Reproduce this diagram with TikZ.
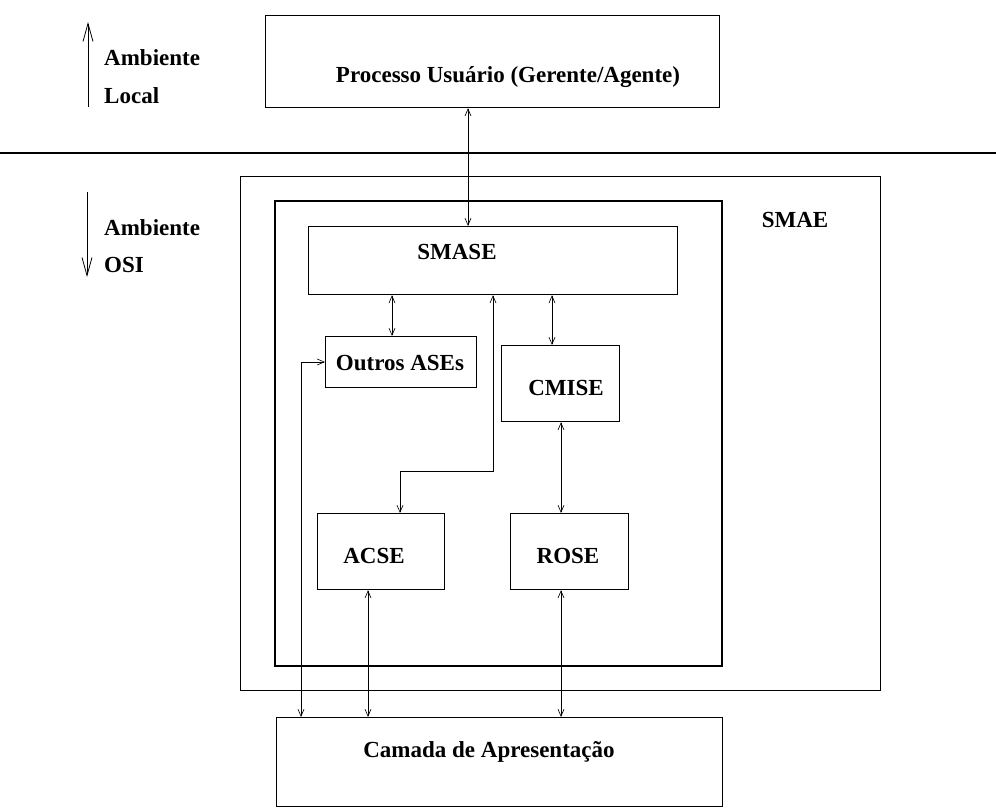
\documentclass[tikz,border=0pt]{standalone}
\usepackage{fontspec}
\setmainfont{Liberation Serif}
\usetikzlibrary{arrows.meta}
\begin{document}
\begin{tikzpicture}[x=1pt,y=-1pt,
  box/.style={draw, line width=1.2pt, inner sep=0pt, anchor=north west},
  thinbox/.style={draw, line width=0.8pt, inner sep=0pt, anchor=north west},
  lbl/.style={font=\bfseries\fontsize{23}{26}\selectfont, inner sep=0pt},
  arr/.style={line width=0.65pt, {Straight Barb[length=7pt,width=6pt]}-{Straight Barb[length=7pt,width=6pt]}},
  bigarr/.style={line width=0.8pt, -{Straight Barb[length=18pt,width=10pt]}}]
\useasboundingbox (0,0) rectangle (996,808);
% boxes
\node[box, minimum width=454pt, minimum height=92pt] (proc) at (265,15) {};
\node[thinbox, minimum width=640pt, minimum height=514pt] (smae) at (240,176) {};
\node[box, line width=1.7pt, minimum width=447pt, minimum height=465pt] (inner) at (274,200) {};
\node[box, minimum width=369pt, minimum height=68pt] (smase) at (308,226) {};
\node[thinbox, minimum width=151pt, minimum height=51pt] (outros) at (325,336) {};
\node[box, minimum width=118pt, minimum height=76pt] (cmise) at (501,345) {};
\node[box, minimum width=127pt, minimum height=76pt] (acse) at (317,513) {};
\node[box, minimum width=118pt, minimum height=76pt] (rose) at (510,513) {};
\node[box, minimum width=446pt, minimum height=89pt] (camada) at (276,717) {};
% texts
\node[lbl] (proct) at (508,77) {Processo Usuário (Gerente/Agente)};
\node[lbl] (smaet) at (795,220) {SMAE};
\node[lbl] (smaset) at (457,252) {SMASE};
\node[lbl] (outrost) at (400,363) {Outros ASEs};
\node[lbl] (cmiset) at (566,388) {CMISE};
\node[lbl] (acset) at (374,556) {ACSE};
\node[lbl] (roset) at (568,556) {ROSE};
\node[lbl] (camadat) at (489,752) {Camada de Apresentação};
\node[lbl, anchor=west] (amb1) at (104,58) {Ambiente};
\node[lbl, anchor=west] (local) at (104,96) {Local};
\node[lbl, anchor=west] (amb2) at (104,228) {Ambiente};
\node[lbl, anchor=west] (osi) at (104,265) {OSI};
% separator line
\coordinate (sepL) at (0,153);
\coordinate (sepR) at (996,153);
\draw[line width=1.2pt] (sepL) -- (sepR);
% environment arrows
\coordinate (upA) at (88,107);
\coordinate (upB) at (88,22);
\coordinate (dnA) at (87,192);
\coordinate (dnB) at (87,277);
\draw[bigarr] (upA) -- (upB);
\draw[bigarr] (dnA) -- (dnB);
% column coordinates
\coordinate (c468) at (468,0);
\coordinate (c392) at (392,0);
\coordinate (c552) at (552,0);
\coordinate (c493) at (493,0);
\coordinate (c400) at (400,0);
\coordinate (c561) at (561,0);
\coordinate (c368) at (368,0);
\coordinate (c301) at (301,0);
\coordinate (r471) at (0,471);
\coordinate (r362) at (0,362);
% connectors
\draw[arr] (proc.south -| c468) -- (smase.north -| c468);
\draw[arr] (smase.south -| c392) -- (outros.north -| c392);
\draw[arr] (smase.south -| c552) -- (cmise.north -| c552);
\draw[arr] (smase.south -| c493) -- (c493 |- r471) -- (c400 |- r471) -- (acse.north -| c400);
\draw[arr] (cmise.south -| c561) -- (rose.north -| c561);
\draw[arr] (acse.south -| c368) -- (camada.north -| c368);
\draw[arr] (rose.south -| c561) -- (camada.north -| c561);
\draw[arr] (outros.west |- r362) -- (c301 |- r362) -- (camada.north -| c301);
\end{tikzpicture}
\end{document}
